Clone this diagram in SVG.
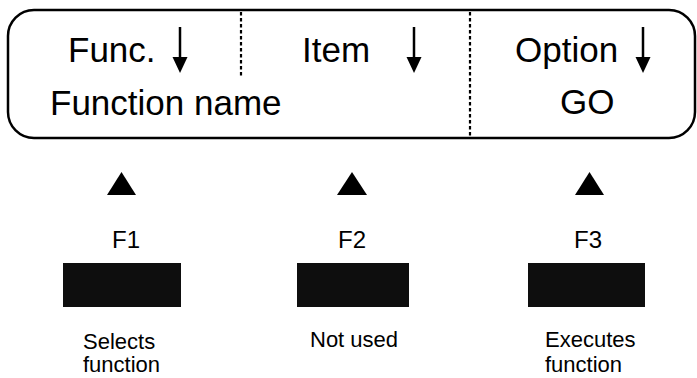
<svg xmlns="http://www.w3.org/2000/svg" width="697" height="378" viewBox="0 0 697 378">
  <style>
    text { font-family: "Liberation Sans", Arial, sans-serif; fill: #000; }
    .big { font-size: 35px; }
    .key { font-size: 24px; }
    .lbl { font-size: 22px; }
    .div { stroke: #000; stroke-width: 2.2; stroke-dasharray: 3.5 2.5; fill: none; }
    .shaft { stroke: #000; stroke-width: 2.5; fill: none; }
    .btn { fill: #0e0e0e; }
  </style>
  <rect width="697" height="378" fill="#fff"/>

  <g id="display">
    <rect x="8" y="10" width="687" height="128" rx="26" ry="26" fill="none" stroke="#000" stroke-width="2.5"/>
    <line class="div" x1="241" y1="12" x2="241" y2="77"/>
    <line class="div" x1="470" y1="12" x2="470" y2="137"/>
    <text class="big" x="68" y="62">Func.</text>
    <text class="big" x="302" y="62">Item</text>
    <text class="big" x="515" y="62">Option</text>
    <text class="big" x="50" y="115">Function name</text>
    <text class="big" x="560" y="114">GO</text>
    <g id="scroll-arrows">
      <line class="shaft" x1="180" y1="27" x2="180" y2="60"/>
      <path d="M172.5,57 L187.5,57 L180,73 z" fill="#000"/>
      <line class="shaft" x1="414" y1="27" x2="414" y2="60"/>
      <path d="M406.5,57 L421.5,57 L414,73 z" fill="#000"/>
      <line class="shaft" x1="643" y1="27" x2="643" y2="60"/>
      <path d="M635.5,57 L650.5,57 L643,73 z" fill="#000"/>
    </g>
  </g>

  <g id="connectors">
    <path d="M107,195 L136,195 L121.5,172 z" fill="#000"/>
    <path d="M337,195 L367,195 L352,172 z" fill="#000"/>
    <path d="M575,195 L604,195 L589.5,172 z" fill="#000"/>
  </g>

  <g id="key-f1">
    <text class="key" x="126" y="248" text-anchor="middle">F1</text>
    <rect class="btn" x="63" y="263" width="118" height="44"/>
    <text class="lbl" x="83" y="349">Selects</text>
    <text class="lbl" x="83" y="372">function</text>
  </g>

  <g id="key-f2">
    <text class="key" x="352" y="248" text-anchor="middle">F2</text>
    <rect class="btn" x="297" y="263" width="112" height="44"/>
    <text class="lbl" x="310" y="347">Not used</text>
  </g>

  <g id="key-f3">
    <text class="key" x="588" y="248" text-anchor="middle">F3</text>
    <rect class="btn" x="528" y="263" width="117" height="44"/>
    <text class="lbl" x="545" y="347">Executes</text>
    <text class="lbl" x="545" y="372">function</text>
  </g>
</svg>
